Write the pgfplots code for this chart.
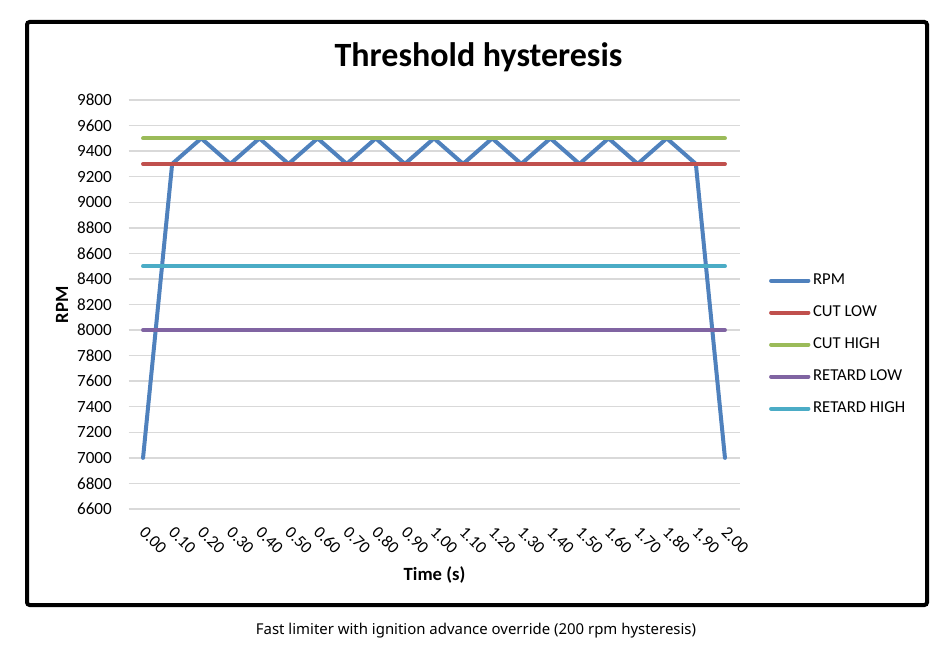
\documentclass[border=0pt]{standalone}
\usepackage{pgfplots}
\usepackage{pgfplotstable}
\pgfplotsset{compat=1.18}
\usepackage{fontspec}
\setmainfont{Carlito}
\newfontfamily\capfont{Noto Sans}

\definecolor{rpmblue}{HTML}{4F81BD}
\definecolor{cutred}{HTML}{C0504D}
\definecolor{cutgreen}{HTML}{9BBB59}
\definecolor{retpurple}{HTML}{8064A2}
\definecolor{retcyan}{HTML}{4BACC6}
\definecolor{gridgray}{HTML}{D9D9D9}

% x is the category index: 0 -> 0.00 s, 20 -> 2.00 s
\pgfplotstableread{
x   rpm   cutlow cuthigh retlow rethigh
0   7000  9300   9500    8000   8500
1   9300  9300   9500    8000   8500
2   9500  9300   9500    8000   8500
3   9300  9300   9500    8000   8500
4   9500  9300   9500    8000   8500
5   9300  9300   9500    8000   8500
6   9500  9300   9500    8000   8500
7   9300  9300   9500    8000   8500
8   9500  9300   9500    8000   8500
9   9300  9300   9500    8000   8500
10  9500  9300   9500    8000   8500
11  9300  9300   9500    8000   8500
12  9500  9300   9500    8000   8500
13  9300  9300   9500    8000   8500
14  9500  9300   9500    8000   8500
15  9300  9300   9500    8000   8500
16  9500  9300   9500    8000   8500
17  9300  9300   9500    8000   8500
18  9500  9300   9500    8000   8500
19  9300  9300   9500    8000   8500
20  7000  9300   9500    8000   8500
}\rpmdata

\begin{document}
\begin{tikzpicture}
\useasboundingbox (0pt,0pt) rectangle (712.5pt,-486pt);
\draw[line width=3pt, rounded corners=2pt] (20.25pt,-16.5pt) rectangle (695.25pt,-453.75pt);
\node[anchor=base, font=\bfseries\fontsize{25.5}{30}\selectfont] at (358.9pt,-50.25pt) {Threshold hysteresis};
\node[rotate=90, font=\bfseries\fontsize{14}{16}\selectfont] at (46.5pt,-228.5pt) {RPM};
\node[font=\bfseries\fontsize{14}{16}\selectfont] at (325.9pt,-431pt) {Time (s)};
\node[font=\capfont\fontsize{11.2}{13}\selectfont] at (357pt,-473.25pt) {Fast limiter with ignition advance override (200 rpm hysteresis)};

\begin{axis}[
  at={(96.375pt,-381.75pt)}, anchor=south west,
  scale only axis, width=458.25pt, height=306.75pt,
  xmin=-0.5, xmax=20.5, ymin=6600, ymax=9800,
  xtick={0,...,20},
  xticklabels={0.00,0.10,0.20,0.30,0.40,0.50,0.60,0.70,0.80,0.90,1.00,
               1.10,1.20,1.30,1.40,1.50,1.60,1.70,1.80,1.90,2.00},
  ytick={6600,6800,...,9800},
  /pgf/number format/assume math mode=true,
  /pgf/number format/1000 sep={},
  ymajorgrids, grid style={line width=1.1pt, gridgray},
  axis line style={draw=none}, major tick length=0pt,
  tick label style={font=\fontsize{12.8}{15}\selectfont},
  y tick label style={anchor=east, inner sep=0pt, xshift=-12.4pt},
  x tick label style={xshift=2.6pt, yshift=-12pt, rotate=-45, anchor=north west, inner sep=0pt},
  every axis plot/.append style={line width=3pt, line cap=round, line join=round, no marks},
  legend style={at={(1.048,0.402)}, anchor=west, draw=none, fill=none,
                font=\fontsize{12.5}{15}\selectfont, row sep=10.4pt, inner sep=0pt},
  legend cell align=left,
  legend image code/.code={\draw[#1] (0pt,0pt) -- (28pt,0pt);},
]
\addplot[rpmblue] table[x=x, y=rpm] {\rpmdata};
\addlegendentry{RPM}
\addplot[cutred] table[x=x, y=cutlow] {\rpmdata};
\addlegendentry{CUT LOW}
\addplot[cutgreen] table[x=x, y=cuthigh] {\rpmdata};
\addlegendentry{CUT HIGH}
\addplot[retpurple] table[x=x, y=retlow] {\rpmdata};
\addlegendentry{RETARD LOW}
\addplot[retcyan] table[x=x, y=rethigh] {\rpmdata};
\addlegendentry{RETARD HIGH}
\end{axis}
\end{tikzpicture}
\end{document}
